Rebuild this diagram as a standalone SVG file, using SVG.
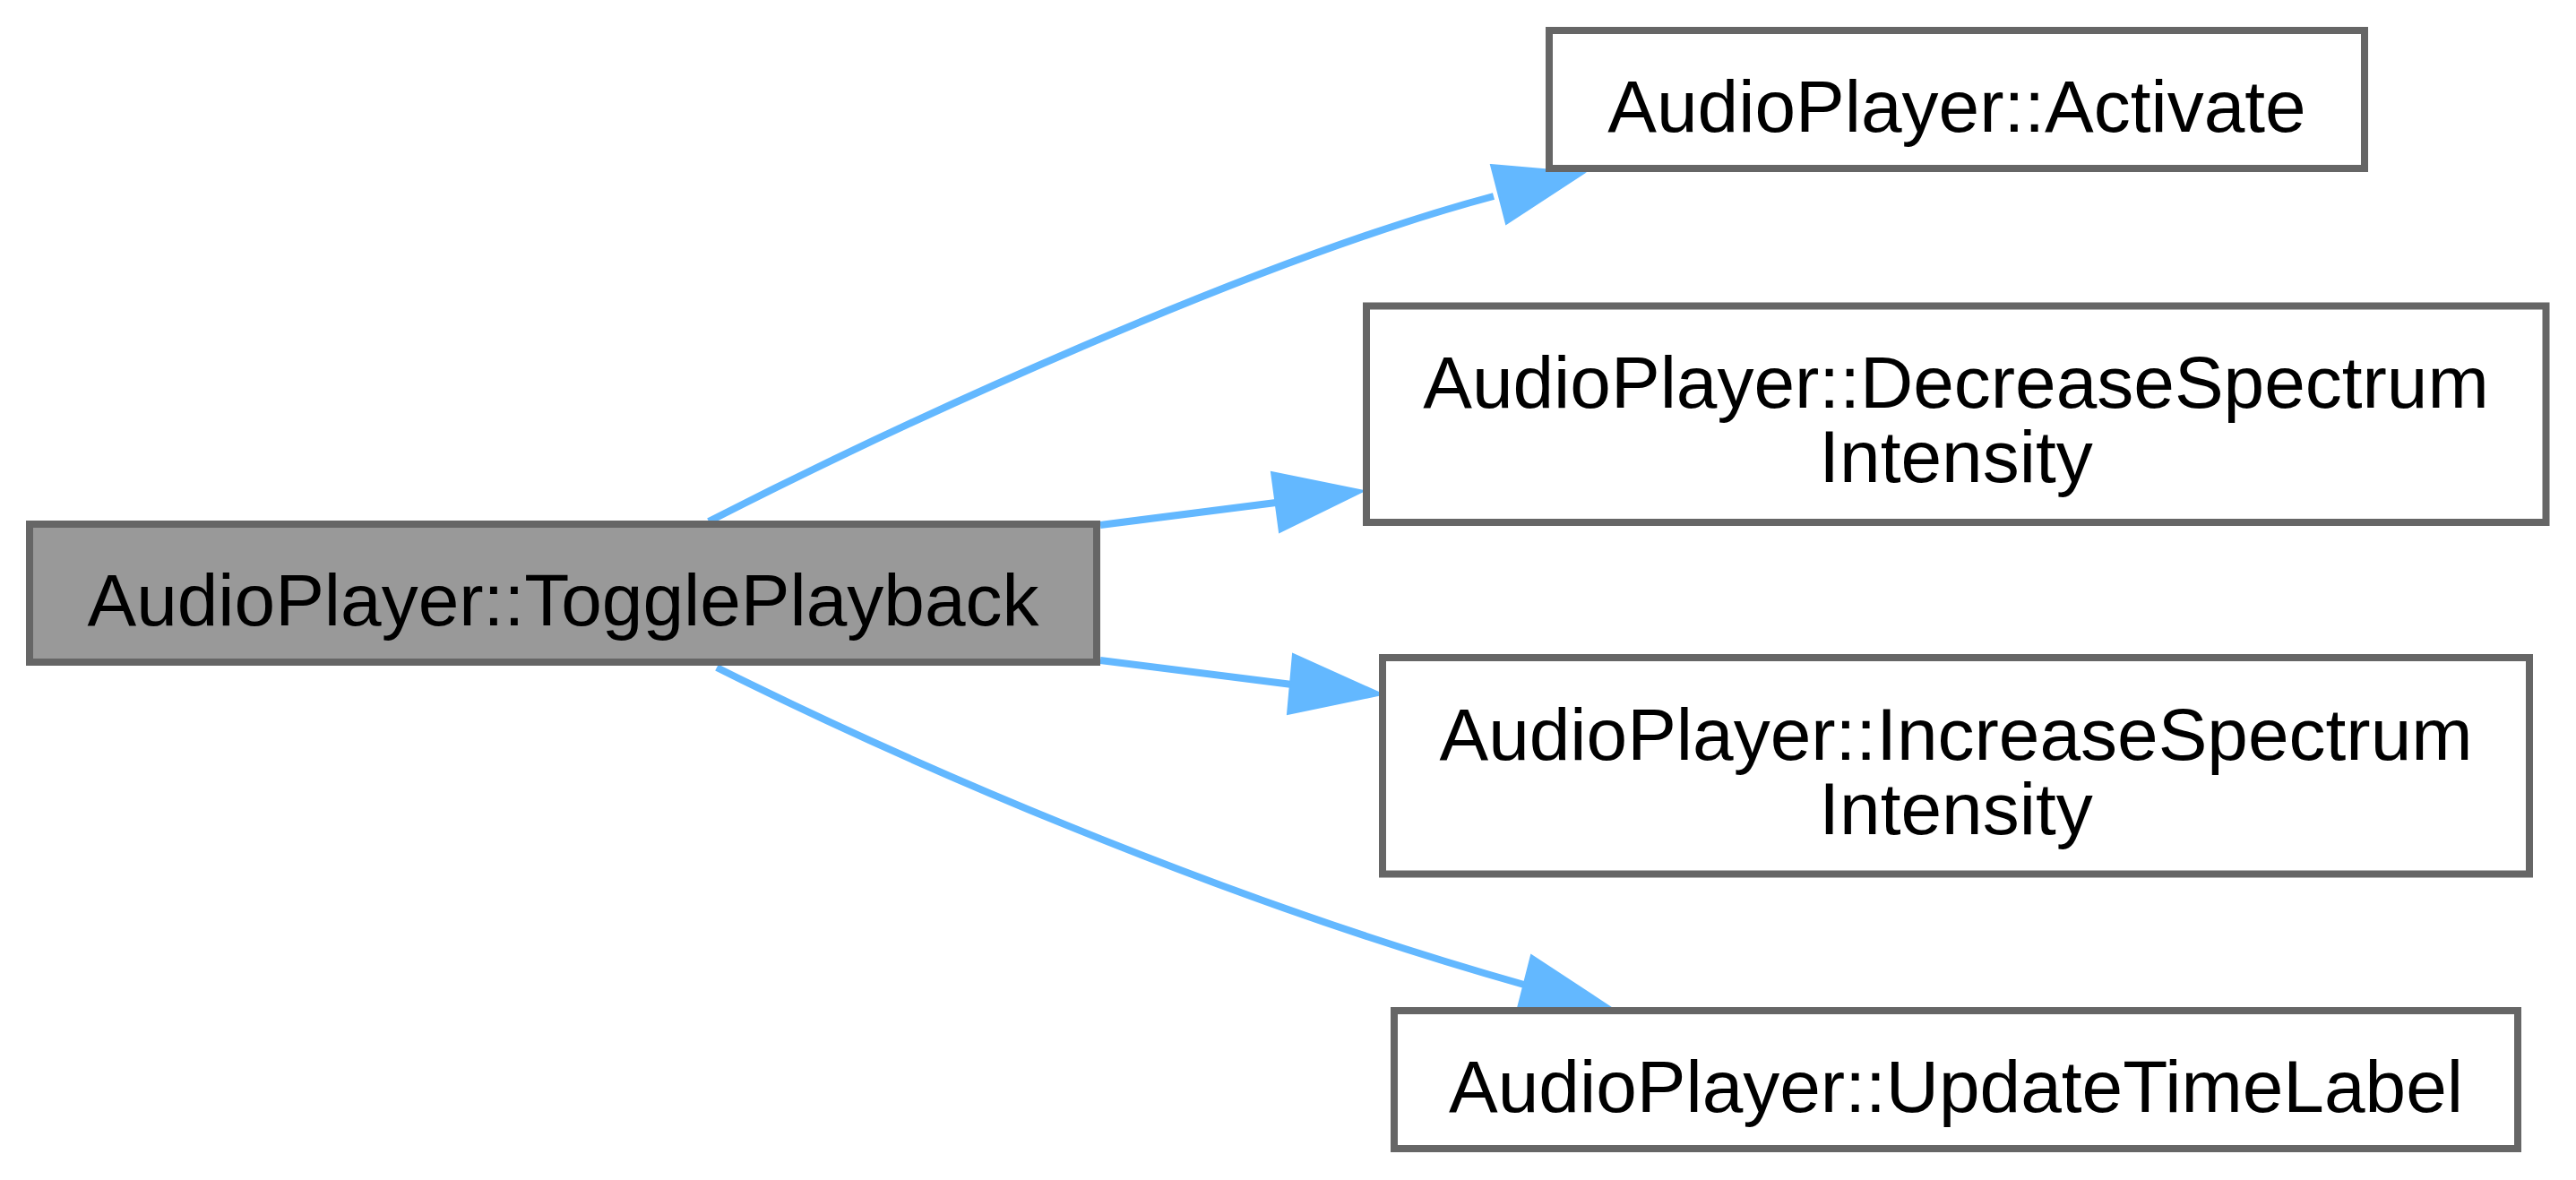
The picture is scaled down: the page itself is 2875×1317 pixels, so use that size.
<svg xmlns="http://www.w3.org/2000/svg" width="2875" height="1317" viewBox="0 0 2875 1317">
<style>
.box{fill:#ffffff;stroke:#666666;stroke-width:8}
.cur{fill:#999999;stroke:#666666;stroke-width:8}
.lbl{font-family:"Liberation Sans",Arial,Helvetica,sans-serif;font-size:82px;fill:#000000;text-anchor:middle}
.edge{fill:none;stroke:#63b8ff;stroke-width:8}
.head{fill:#63b8ff;stroke:#63b8ff;stroke-width:2}
</style>
<rect x="0" y="0" width="2875" height="1317" fill="#ffffff"/>
<g id="connectors">
<path class="edge" d="M791,582 C1000,475 1400,290 1667,219"/>
<polygon class="head" points="1664,184 1768,193 1681,250"/>
<path class="edge" d="M1228,586 L1424,561"/>
<polygon class="head" points="1419,527 1522,548 1428,594"/>
<path class="edge" d="M1228,737 L1442,764"/>
<polygon class="head" points="1443,730 1543,775 1437,797"/>
<path class="edge" d="M800,745 C1000,845 1350,1000 1701,1099"/>
<polygon class="head" points="1709,1066 1797,1124 1692,1133"/>
</g>
<g id="node-toggleplayback">
<rect class="cur" x="33" y="585" width="1191" height="154"/>
<text class="lbl" x="628.5" y="698">AudioPlayer::TogglePlayback</text>
</g>
<g id="node-activate">
<rect class="box" x="1729" y="34" width="910" height="154"/>
<text class="lbl" x="2184" y="147">AudioPlayer::Activate</text>
</g>
<g id="node-decrease">
<rect class="box" x="1525" y="341.5" width="1316.5" height="241.5"/>
<text class="lbl" x="2183" y="455">AudioPlayer::DecreaseSpectrum</text>
<text class="lbl" x="2183" y="538">Intensity</text>
</g>
<g id="node-increase">
<rect class="box" x="1543" y="734" width="1280" height="241.5"/>
<text class="lbl" x="2183" y="848">AudioPlayer::IncreaseSpectrum</text>
<text class="lbl" x="2183" y="931">Intensity</text>
</g>
<g id="node-updatetimelabel">
<rect class="box" x="1556" y="1128" width="1254" height="154"/>
<text class="lbl" x="2183" y="1241">AudioPlayer::UpdateTimeLabel</text>
</g>
</svg>
